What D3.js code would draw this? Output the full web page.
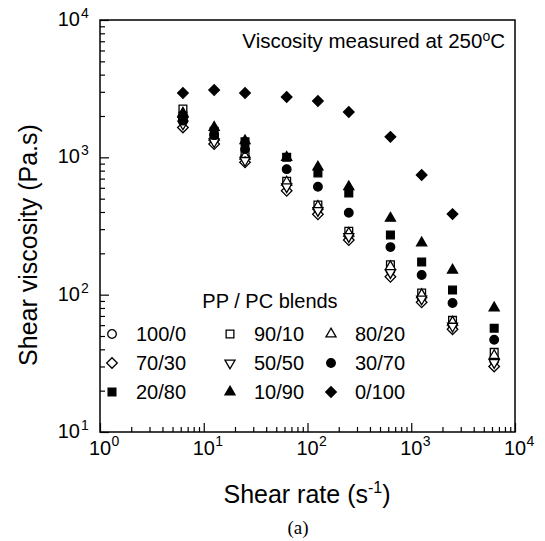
<!DOCTYPE html>
<html><head><meta charset="utf-8">
<script src="https://cdn.jsdelivr.net/npm/d3@7"></script>
<style>body{margin:0;background:#fff}svg{display:block}</style>
</head><body>
<svg id="chart" width="545" height="541"></svg>
<script>
// ---- data ----
const shearRates = [6.3, 12.6, 25, 63, 126, 250, 630, 1260, 2500, 6300];
const pp100pc0 = [1900, 1350, 1000, 640, 420, 270, 150, 95, 60, 33];
const pp90pc10 = [2250, 1400, 1050, 670, 450, 290, 165, 103, 65, 38];
const pp80pc20 = [2100, 1400, 1020, 660, 440, 280, 160, 100, 63, 36];
const pp70pc30 = [1650, 1250, 920, 570, 385, 250, 135, 88, 56, 30];
const pp50pc50 = [1750, 1300, 950, 610, 410, 265, 145, 93, 59, 32];
const pp30pc70 = [1850, 1450, 1150, 820, 610, 395, 222, 139, 87, 47];
const pp20pc80 = [2000, 1550, 1300, 1000, 770, 550, 272, 173, 108, 57];
const pp10pc90 = [2050, 1650, 1320, 1000, 850, 610, 360, 238, 151, 80];
const pp0pc100 = [2940, 3090, 2940, 2750, 2570, 2140, 1410, 743, 386, null];
const blendLabels = ["100/0", "90/10", "80/20", "70/30", "50/50", "30/70", "20/80", "10/90", "0/100"];
const xTickExponents = [0, 1, 2, 3, 4];
const yTickExponents = [1, 2, 3, 4];

const seriesValues = [pp100pc0, pp90pc10, pp80pc20, pp70pc30, pp50pc50, pp30pc70, pp20pc80, pp10pc90, pp0pc100];
const markerKinds = ["circle", "square", "triangle", "diamond", "triDown", "circle", "square", "triangle", "diamond"];
const markerFilled = [false, false, false, false, false, true, true, true, true];

// ---- layout ----
const svg = d3.select("#chart");
const FONT = "'Liberation Sans', Arial, Helvetica, sans-serif";
const SERIF = "'Liberation Serif', 'Times New Roman', serif";
const plotL = 100, plotR = 515, plotT = 20, plotB = 432;
const x = d3.scaleLog().domain([1, 1e4]).range([plotL, plotR]);
const y = d3.scaleLog().domain([10, 1e4]).range([plotB, plotT]);

function minorTicks(lo, hi) {
  const out = [];
  for (let e = lo; e < hi; e++) for (let k = 2; k <= 9; k++) out.push(k * Math.pow(10, e));
  return out;
}

// axes with inward ticks
const gxMinor = svg.append("g").attr("transform", `translate(0,${plotB})`)
  .call(d3.axisBottom(x).tickValues(minorTicks(0, 4)).tickSize(-5).tickFormat(""));
const gxMajor = svg.append("g").attr("transform", `translate(0,${plotB})`)
  .call(d3.axisBottom(x).tickValues(xTickExponents.map(e => Math.pow(10, e))).tickSize(-9).tickFormat(""));
const gyMinor = svg.append("g").attr("transform", `translate(${plotL},0)`)
  .call(d3.axisLeft(y).tickValues(minorTicks(1, 4)).tickSize(-5).tickFormat(""));
const gyMajor = svg.append("g").attr("transform", `translate(${plotL},0)`)
  .call(d3.axisLeft(y).tickValues(yTickExponents.map(e => Math.pow(10, e))).tickSize(-9).tickFormat(""));
[gxMinor, gxMajor, gyMinor, gyMajor].forEach(g => {
  g.select(".domain").remove();
  g.selectAll(".tick line").attr("stroke", "#000").attr("stroke-width", 1.2);
});

// frame
svg.append("rect").attr("x", plotL).attr("y", plotT).attr("width", plotR - plotL).attr("height", plotB - plotT)
  .attr("fill", "none").attr("stroke", "#000").attr("stroke-width", 1.5);

// tick labels 10^n
xTickExponents.forEach(e => {
  const px = x(Math.pow(10, e));
  svg.append("text").attr("x", px).attr("y", 455).attr("text-anchor", "middle")
    .style("font-family", FONT).attr("font-size", 20).text("10");
  svg.append("text").attr("x", px + 11.5).attr("y", 446).attr("text-anchor", "start")
    .style("font-family", FONT).attr("font-size", 14).text(e);
});
yTickExponents.forEach(e => {
  const py = y(Math.pow(10, e));
  svg.append("text").attr("x", 80).attr("y", py + 6).attr("text-anchor", "end")
    .style("font-family", FONT).attr("font-size", 20).text("10");
  svg.append("text").attr("x", 81).attr("y", py - 2).attr("text-anchor", "start")
    .style("font-family", FONT).attr("font-size", 14).text(e);
});

// axis titles
const xt = svg.append("text").attr("x", 307).attr("y", 503).attr("text-anchor", "middle")
  .style("font-family", FONT).attr("font-size", 25);
xt.append("tspan").text("Shear rate (s");
xt.append("tspan").attr("font-size", 16).attr("dy", -10).text("-1");
xt.append("tspan").attr("dy", 10).text(")");

svg.append("text").attr("transform", "translate(37,245) rotate(-90)").attr("text-anchor", "middle")
  .style("font-family", FONT).attr("font-size", 25).text("Shear viscosity (Pa.s)");

svg.append("text").attr("x", 298).attr("y", 534).attr("text-anchor", "middle")
  .style("font-family", SERIF).attr("font-size", 19).text("(a)");

// annotation
const ann = svg.append("text").attr("x", 505).attr("y", 48).attr("text-anchor", "end")
  .style("font-family", FONT).attr("font-size", 20.5);
ann.append("tspan").text("Viscosity measured at 250");
ann.append("tspan").attr("font-size", 14).attr("dy", -7).text("o");
ann.append("tspan").attr("dy", 7).text("C");

// markers
const symbolFor = {
  circle: d3.symbol(d3.symbolCircle, 58),
  square: d3.symbol(d3.symbolSquare, 60),
  triangle: d3.symbol(d3.symbolTriangle, 44),
  triDown: d3.symbol(d3.symbolTriangle, 44),
  diamond: d3.symbol(d3.symbolSquare, 56)
};
const rotFor = { circle: 0, square: 0, triangle: 0, triDown: 180, diamond: 45 };
function marker(g, kind, filled, px, py) {
  g.append("path").attr("d", symbolFor[kind]())
    .attr("transform", `translate(${px},${py}) rotate(${rotFor[kind]})`)
    .attr("fill", filled ? "#000" : "#fff").attr("stroke", "#000").attr("stroke-width", 1.3);
}

const gData = svg.append("g");
seriesValues.forEach((vals, i) => {
  vals.forEach((v, j) => {
    if (v == null) return;
    marker(gData, markerKinds[i], markerFilled[i], x(shearRates[j]), y(v));
  });
});

// legend
svg.append("text").attr("x", 270).attr("y", 308).attr("text-anchor", "middle")
  .style("font-family", FONT).attr("font-size", 20).text("PP / PC blends");
const legCols = [112, 230, 331];
const legRows = [341, 370, 399];
blendLabels.forEach((lab, i) => {
  const c = i % 3, r = Math.floor(i / 3);
  marker(svg, markerKinds[i], markerFilled[i], legCols[c], legRows[r] - 7);
  svg.append("text").attr("x", legCols[c] + 24).attr("y", legRows[r])
    .style("font-family", FONT).attr("font-size", 20).text(lab);
});
</script>
</body></html>
